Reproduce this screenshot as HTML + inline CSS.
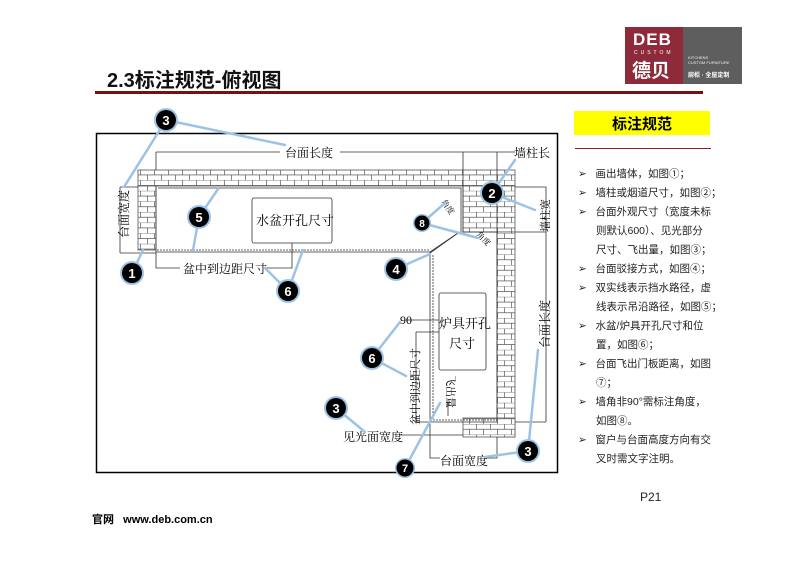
<!DOCTYPE html>
<html><head><meta charset="utf-8"><style>
body{margin:0;width:800px;height:566px;background:#fff;overflow:hidden;position:relative;font-family:"Liberation Sans","Noto Sans CJK SC",sans-serif}
.t{position:absolute;white-space:nowrap}
</style></head><body>
<div class="t" style="left:107px;top:64px;font-size:20px;font-weight:bold;color:#111">2.3标注规范-俯视图</div>
<div style="position:absolute;left:95px;top:91px;width:608px;height:3px;background:#7a0f12"></div>
<div style="position:absolute;left:625px;top:27px;width:58px;height:57px;background:#8e2a3a"></div>
<div style="position:absolute;left:683px;top:27px;width:59px;height:57px;background:#5e5e5e"></div>
<div class="t" style="left:633px;top:30px;font-size:17px;font-weight:bold;color:#fff;letter-spacing:1px">DEB</div>
<div class="t" style="left:634px;top:50px;font-size:5px;color:#fff;letter-spacing:3px">CUSTOM</div>
<div class="t" style="left:632px;top:56px;font-size:19px;font-weight:bold;color:#fff">德贝</div>
<div class="t" style="left:688px;top:55px;font-size:4px;color:#eee">KITCHENS<br>CUSTOM FURNITURE</div>
<div class="t" style="left:688px;top:70px;font-size:6px;color:#fff;font-weight:bold">厨柜 · 全屋定制</div>
<div style="position:absolute;left:574px;top:111px;width:136px;height:24px;background:#ffff00"></div>
<div class="t" style="left:574px;top:113px;width:136px;text-align:center;font-size:15px;font-weight:bold">标注规范</div>
<div style="position:absolute;left:575px;top:148px;width:136px;height:1px;background:#8a2020"></div>
<div style="position:absolute;left:578px;top:165px;font-size:10.5px;line-height:19px;color:#222">
<div>➢ &nbsp;&nbsp;画出墙体，如图①；</div>
<div>➢ &nbsp;&nbsp;墙柱或烟道尺寸，如图②；</div>
<div>➢ &nbsp;&nbsp;台面外观尺寸（宽度未标</div>
<div style="padding-left:18px">则默认600）、见光部分</div>
<div style="padding-left:18px">尺寸、飞出量，如图③；</div>
<div>➢ &nbsp;&nbsp;台面驳接方式，如图④；</div>
<div>➢ &nbsp;&nbsp;双实线表示挡水路径，虚</div>
<div style="padding-left:18px">线表示吊沿路径，如图⑤；</div>
<div>➢ &nbsp;&nbsp;水盆/炉具开孔尺寸和位</div>
<div style="padding-left:18px">置，如图⑥；</div>
<div>➢ &nbsp;&nbsp;台面飞出门板距离，如图</div>
<div style="padding-left:18px">⑦；</div>
<div>➢ &nbsp;&nbsp;墙角非90°需标注角度，</div>
<div style="padding-left:18px">如图⑧。</div>
<div>➢ &nbsp;&nbsp;窗户与台面高度方向有交</div>
<div style="padding-left:18px">叉时需文字注明。</div>
</div>
<div class="t" style="left:640px;top:490px;font-size:12px;color:#222">P21</div>
<div class="t" style="left:92px;top:511px;font-size:11px;font-weight:bold">官网 &nbsp;&nbsp;www.deb.com.cn</div>

<svg style="position:absolute;left:0;top:0" width="800" height="566" font-family="Liberation Serif,Noto Serif CJK SC,serif">
<defs>
<pattern id="br" x="0" y="0" width="14" height="10.6" patternUnits="userSpaceOnUse">
<rect width="14" height="10.6" fill="#fff"/>
<path d="M0 0H14M0 5.3H14M0.5 0V5.3M7.5 5.3V10.6" stroke="#555" stroke-width="0.7" fill="none"/>
</pattern>
</defs>
<rect x="96.5" y="133.5" width="461" height="339" fill="none" stroke="#000" stroke-width="1.5"/>
<g stroke="#555" stroke-width="0.8">
<rect x="138" y="170" width="377" height="16" fill="url(#br)"/>
<rect x="138" y="186" width="18" height="64" fill="url(#br)"/>
<rect x="463" y="186" width="52" height="46" fill="url(#br)"/>
<rect x="497" y="232" width="18" height="205" fill="url(#br)"/>
<rect x="463" y="418" width="52" height="19" fill="url(#br)"/>
</g>
<g fill="none" stroke="#333" stroke-width="0.8">
<path d="M156 186V252H430V422H497V232H463V186"/>
<path d="M158 188H461V233H458L430 253"/>
<path d="M157 250H430" stroke-dasharray="2 1"/>
<path d="M433 255V420H497" stroke-dasharray="2 1"/>
<line x1="458" y1="233" x2="430" y2="252"/>
<rect x="252" y="198" width="80" height="45" rx="2"/>
<rect x="439" y="293" width="47" height="77" rx="2"/>
<path d="M156 152H280M340 152H497M497 152H515M156 152V170M463 152V186M497 152V232"/>
<path d="M120 187H138M120 187V253M120 253H156"/>
<path d="M515 187H546V232M515 232H546M546 232V422M515 422H546"/>
<path d="M156 252V268H180M265 268H292V243"/>
<path d="M406 320H439M416 332H439M416 332V422H430"/>
<path d="M400 435H463M430 422V458H440M485 458H497V437"/>
<path d="M448 403V416"/>
</g>
<g fill="#000" font-size="12">
<text x="285" y="157">台面长度</text>
<text x="514" y="157">墙柱长</text>
<text x="183" y="273">盆中到边距尺寸</text>
<text x="256" y="225" font-size="13">水盆开孔尺寸</text>
<text x="439" y="328" font-size="13">炉具开孔</text>
<text x="449" y="348" font-size="13">尺寸</text>
<text x="400" y="324" font-size="12">90</text>
<text x="343" y="441">见光面宽度</text>
<text x="440" y="465">台面宽度</text>
<text transform="translate(128,238) rotate(-90)">台面宽度</text>
<text transform="translate(549,232) rotate(-90)" font-size="11">墙柱宽</text>
<text transform="translate(549,348) rotate(-90)">台面长度</text>
<text transform="translate(419,425) rotate(-90)" font-size="11">盆中到边距尺寸</text>
<text transform="translate(447,375) rotate(90)" font-size="11">飞出量</text>
<text transform="translate(441,202) rotate(55)" font-size="8">角度</text>
<text transform="translate(476,235) rotate(45)" font-size="8">角度</text>
</g>
<g stroke="#9cc3e6" stroke-width="2.5" stroke-linecap="round">
<path d="M166 120L124 187M166 120L285 145"/>
<path d="M492 193L515 160M492 193L535 210"/>
<path d="M422 223L445 203M422 223L478 238"/>
<path d="M199 217L218 189M199 217L193 250"/>
<path d="M132 273L143 250"/>
<path d="M396 269L430 254"/>
<path d="M288 291L265 268M288 291L303 250"/>
<path d="M372 358L400 322M372 358L406 376"/>
<path d="M336 408L365 432"/>
<path d="M528 451L538 350M528 451L485 457"/>
<path d="M405 468L440 403"/>
</g>
<g font-family="Liberation Sans,sans-serif" font-weight="bold" font-size="13" fill="#fff" text-anchor="middle">
<g><circle cx="166" cy="120" r="12" fill="#9cc3e6"/><circle cx="166" cy="120" r="10" fill="#000"/><text x="166" y="125">3</text></g>
<g><circle cx="492" cy="193" r="12" fill="#9cc3e6"/><circle cx="492" cy="193" r="10" fill="#000"/><text x="492" y="198">2</text></g>
<g><circle cx="422" cy="223" r="9" fill="#9cc3e6"/><circle cx="422" cy="223" r="7.5" fill="#000"/><text x="422" y="227" font-size="10">8</text></g>
<g><circle cx="199" cy="217" r="12" fill="#9cc3e6"/><circle cx="199" cy="217" r="10" fill="#000"/><text x="199" y="222">5</text></g>
<g><circle cx="132" cy="273" r="12" fill="#9cc3e6"/><circle cx="132" cy="273" r="10" fill="#000"/><text x="132" y="278">1</text></g>
<g><circle cx="396" cy="269" r="12" fill="#9cc3e6"/><circle cx="396" cy="269" r="10" fill="#000"/><text x="396" y="274">4</text></g>
<g><circle cx="288" cy="291" r="12" fill="#9cc3e6"/><circle cx="288" cy="291" r="10" fill="#000"/><text x="288" y="296">6</text></g>
<g><circle cx="372" cy="358" r="12" fill="#9cc3e6"/><circle cx="372" cy="358" r="10" fill="#000"/><text x="372" y="363">6</text></g>
<g><circle cx="336" cy="408" r="12" fill="#9cc3e6"/><circle cx="336" cy="408" r="10" fill="#000"/><text x="336" y="413">3</text></g>
<g><circle cx="528" cy="451" r="12" fill="#9cc3e6"/><circle cx="528" cy="451" r="10" fill="#000"/><text x="528" y="456">3</text></g>
<g><circle cx="405" cy="468" r="10" fill="#9cc3e6"/><circle cx="405" cy="468" r="8.5" fill="#000"/><text x="405" y="472" font-size="11">7</text></g>
</g>
</svg>
</body></html>
